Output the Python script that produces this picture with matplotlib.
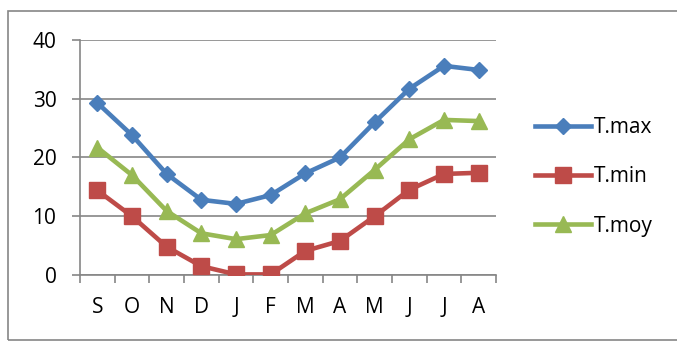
import matplotlib.pyplot as plt
from matplotlib.patches import Rectangle

months = ['S', 'O', 'N', 'D', 'J', 'F', 'M', 'A', 'M', 'J', 'J', 'A']
t_max = [29.3, 23.8, 17.2, 12.8, 12.1, 13.6, 17.3, 20.0, 26.0, 31.7, 35.6, 34.9]
t_min = [14.4, 10.0, 4.8, 1.5, 0.1, 0.1, 4.1, 5.8, 10.0, 14.5, 17.2, 17.4]
t_moy = [21.7, 17.0, 10.9, 7.1, 6.1, 6.8, 10.5, 12.9, 17.9, 23.1, 26.4, 26.2]

plt.rcParams['font.family'] = ['Open Sans', 'DejaVu Sans']
W, H = 677, 341
fig = plt.figure(figsize=(W / 100, H / 100), dpi=100)
ax = fig.add_axes([80 / W, 1 - 275 / H, (496 - 80) / W, (275 - 40) / H])

x = range(len(months))
ax.plot(x, t_max, color='#4A7EBB', lw=3.3, marker='D', ms=8.5, label='T.max', zorder=3)
ax.plot(x, t_min, color='#BE4B48', lw=3.3, marker='s', ms=12, label='T.min', zorder=3)
ax.plot(x, t_moy, color='#98B954', lw=3.3, marker='^', ms=12, label='T.moy', zorder=3)

ax.set_xlim(-0.5, 11.5)
ax.set_ylim(0, 40)
ax.set_yticks([0, 10, 20, 30, 40])
ax.set_xticks(list(x))
ax.set_xticklabels(months)
ax.set_xticks([i - 0.5 for i in range(13)], minor=True)
ax.grid(axis='y', color='#868686', lw=1.2)
ax.set_axisbelow(True)

for s in ['top', 'right']:
    ax.spines[s].set_visible(False)
for s in ['left', 'bottom']:
    ax.spines[s].set_color('#868686')
    ax.spines[s].set_linewidth(1.2)

ax.tick_params(axis='x', which='major', length=0, pad=16, labelsize=15)
ax.tick_params(axis='x', which='minor', length=6, color='#868686', width=1.2)
ax.tick_params(axis='y', length=6, color='#868686', width=1.2, pad=11, labelsize=15)

ax.legend(loc='center left', bbox_to_anchor=((535 - 80) / 416, (275 - 177) / 235),
          frameon=False, fontsize=15, handlelength=2.7, handletextpad=0.15,
          labelspacing=1.35, borderpad=0, borderaxespad=0)

fig.patches.append(Rectangle((8 / W, 1 / H), 1 - 8 / W + 0.01, (339 - 10) / H,
                             transform=fig.transFigure, fill=False,
                             edgecolor='#868686', lw=1.2))

fig.savefig('out.png', dpi=100)
